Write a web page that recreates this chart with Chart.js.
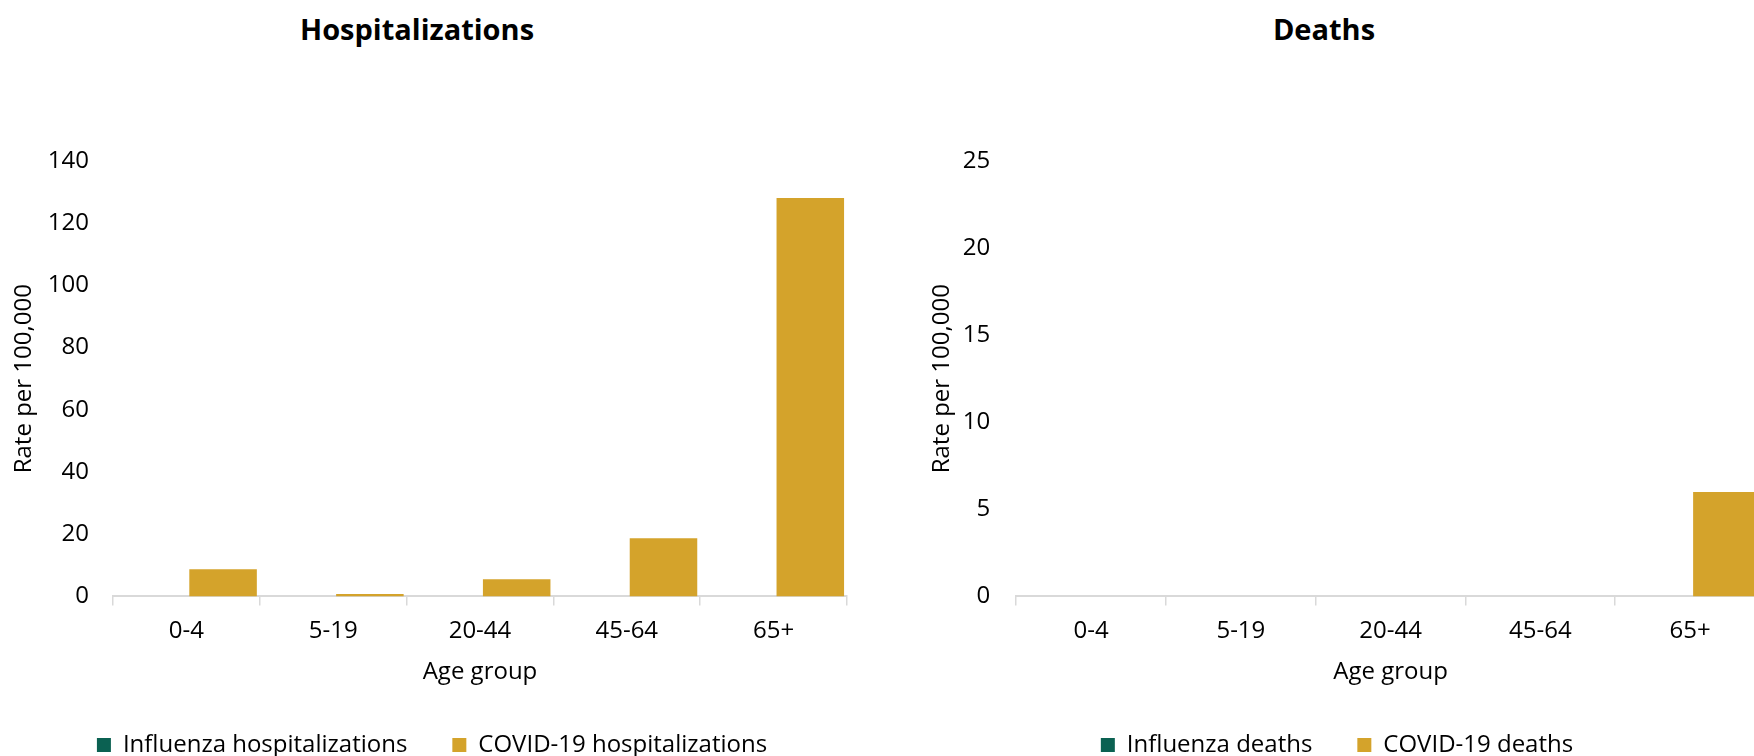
<!DOCTYPE html>
<html>
<head>
<meta charset="utf-8">
<title>Hospitalizations and deaths by age group</title>
<script src="https://cdn.jsdelivr.net/npm/chart.js"></script>
<style>
    body { margin: 0; background: #fff; overflow: hidden; }
    #lienzo { position: relative; width: 1754px; height: 756px; overflow: hidden; }
    .titulo {
        position: absolute; top: 9px; line-height: 36px;
        font: bold 29px "Open Sans", sans-serif; color: #000;
        transform: translateX(-50%); white-space: nowrap;
    }
    .caja { position: absolute; top: 0; height: 767px; }
    #cajaHosp { left: 0; width: 864px; }
    #cajaDeaths { left: 900px; width: 865px; }
</style>
</head>
<body>
<div id="lienzo">
    <div class="titulo" style="left:417px">Hospitalizations</div>
    <div class="titulo" style="left:1324px">Deaths</div>
    <div class="caja" id="cajaHosp"><canvas id="graficaHosp" width="864" height="767"></canvas></div>
    <div class="caja" id="cajaDeaths"><canvas id="graficaDeaths" width="865" height="767"></canvas></div>
</div>

<script>
// 🔹 Datos
const gruposEdad = ['0-4', '5-19', '20-44', '45-64', '65+'];

const influenzaHosp = [0, 0, 0, 0, 0];
const covidHosp = [8.7, 0.8, 5.5, 18.7, 128.1];

const influenzaDeaths = [0, 0, 0, 0, 0];
const covidDeaths = [0, 0, 0, 0, 6.0];

const maxHosp = 140, pasoHosp = 20;
const maxDeaths = 25, pasoDeaths = 5;

const colorInfluenza = '#0b6152';
const colorCovid = '#d4a32b';

const fuente = { family: '"Open Sans", sans-serif', size: 24 };

// 🔹 Crear gráfica de barras
function crearGrafica(id, etiquetas, datosInf, datosCovid, maxY, paso, pad) {
    const ctx = document.getElementById(id).getContext('2d');

    return new Chart(ctx, {
        type: 'bar',
        data: {
            labels: gruposEdad,
            datasets: [
                {
                    label: etiquetas[0],
                    data: datosInf,
                    backgroundColor: colorInfluenza,
                    borderWidth: 0,
                    barPercentage: 0.92,
                    categoryPercentage: 1
                },
                {
                    label: etiquetas[1],
                    data: datosCovid,
                    backgroundColor: colorCovid,
                    borderWidth: 0,
                    barPercentage: 0.92,
                    categoryPercentage: 1
                }
            ]
        },
        options: {
            responsive: false,
            animation: false,
            devicePixelRatio: 1,
            layout: {
                padding: { left: pad.left, right: pad.right, top: 161, bottom: 0 }
            },
            plugins: {
                legend: {
                    position: 'bottom',
                    labels: {
                        boxWidth: 14,
                        boxHeight: 14,
                        padding: 45,
                        color: '#000',
                        font: fuente
                    }
                },
                tooltip: { enabled: false }
            },
            scales: {
                x: {
                    grid: {
                        display: true,
                        drawOnChartArea: false,
                        offset: true,
                        tickLength: 9,
                        color: '#d9d9d9',
                        lineWidth: 1.5
                    },
                    border: { display: true, color: '#d9d9d9', width: 2 },
                    ticks: { padding: 11, color: '#000', font: fuente },
                    title: {
                        display: true,
                        text: 'Age group',
                        color: '#000',
                        font: fuente,
                        padding: { top: 2, bottom: 1 }
                    }
                },
                y: {
                    min: 0,
                    max: maxY,
                    // el hueco entre etiqueta y eje va por tickLength (padding cuenta doble al medir)
                    ticks: { stepSize: paso, padding: 0, color: '#000', font: fuente },
                    grid: { display: false, drawTicks: true, tickLength: pad.tick },
                    border: { display: false },
                    title: {
                        display: true,
                        text: 'Rate per 100,000',
                        color: '#000',
                        font: fuente,
                        padding: { top: pad.tituloArriba, bottom: pad.tituloAbajo }
                    }
                }
            }
        }
    });
}

crearGrafica('graficaHosp',
    ['Influenza hospitalizations', 'COVID-19 hospitalizations'],
    influenzaHosp, covidHosp, maxHosp, pasoHosp,
    { left: 17, right: 17, tick: 24, tituloArriba: -7, tituloAbajo: 9 });

crearGrafica('graficaDeaths',
    ['Influenza deaths', 'COVID-19 deaths'],
    influenzaDeaths, covidDeaths, maxDeaths, pasoDeaths,
    { left: 9, right: 0, tick: 26, tituloArriba: 19, tituloAbajo: 6 });
</script>
</body>
</html>
